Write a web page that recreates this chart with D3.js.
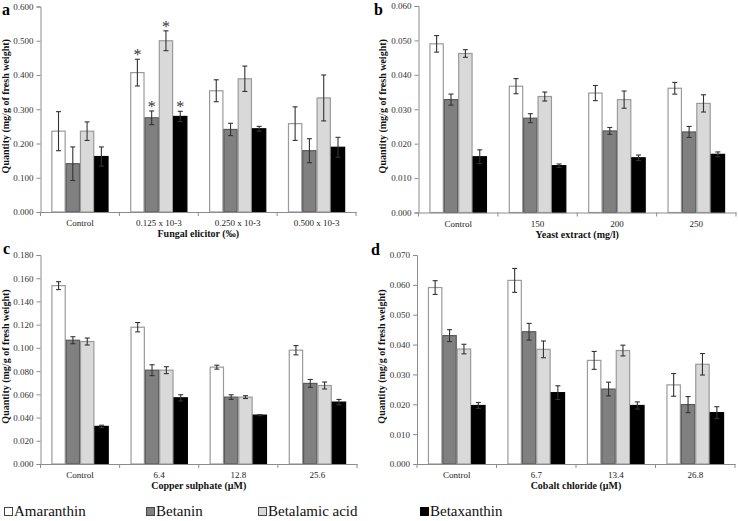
<!DOCTYPE html>
<html><head><meta charset="utf-8">
<script src="https://cdn.jsdelivr.net/npm/d3@7"></script>
<style>
html,body{margin:0;padding:0;background:#fff;}
svg{display:block;}
text{font-family:"Liberation Serif","Times New Roman",serif;}
</style></head>
<body>
<svg id="chart" width="738" height="521"></svg>
<script>
const seriesNames = ["Amaranthin","Betanin","Betalamic acid","Betaxanthin"];
const seriesFill = ["#ffffff","#808080","#d9d9d9","#000000"];
const seriesStroke = ["#9a9a9a","#5a5a5a","#9a9a9a","#000000"];

// Panel a: Fungal elicitor
const catsA = ["Control","0.125 x 10-3","0.250 x 10-3","0.500 x 10-3"];
const aAmaranthin = [0.236,0.407,0.354,0.258];
const aBetanin = [0.141,0.275,0.241,0.179];
const aBetalamic = [0.236,0.500,0.389,0.333];
const aBetaxanthin = [0.162,0.279,0.243,0.189];
const aErrAmaranthin = [0.057,0.039,0.032,0.049];
const aErrBetanin = [0.049,0.020,0.018,0.035];
const aErrBetalamic = [0.027,0.029,0.037,0.067];
const aErrBetaxanthin = [0.028,0.015,0.007,0.029];
const aStars = [[0,0,0,0],[1,1,1,1],[0,0,0,0],[0,0,0,0]];
const ticksA = [0,0.1,0.2,0.3,0.4,0.5,0.6];

// Panel b: Yeast extract
const catsB = ["Control","150","200","250"];
const bAmaranthin = [0.0490,0.0367,0.0347,0.0361];
const bBetanin = [0.0328,0.0274,0.0237,0.0234];
const bBetalamic = [0.0462,0.0337,0.0328,0.0317];
const bBetaxanthin = [0.0162,0.0136,0.0159,0.0169];
const bErrAmaranthin = [0.0024,0.0022,0.0022,0.0017];
const bErrBetanin = [0.0016,0.0013,0.0010,0.0016];
const bErrBetalamic = [0.0011,0.0013,0.0025,0.0025];
const bErrBetaxanthin = [0.0020,0.0005,0.0008,0.0007];
const ticksB = [0,0.01,0.02,0.03,0.04,0.05,0.06];

// Panel c: Copper sulphate
const catsC = ["Control","6.4","12.8","25.6"];
const cAmaranthin = [0.1536,0.1178,0.0834,0.0980];
const cBetanin = [0.1066,0.0808,0.0576,0.0694];
const cBetalamic = [0.1055,0.0808,0.0576,0.0676];
const cBetaxanthin = [0.0324,0.0570,0.0421,0.0533];
const cErrAmaranthin = [0.0034,0.0040,0.0017,0.0040];
const cErrBetanin = [0.0030,0.0047,0.0020,0.0034];
const cErrBetalamic = [0.0030,0.0030,0.0012,0.0030];
const cErrBetaxanthin = [0.0010,0.0027,0.0005,0.0023];
const ticksC = [0,0.02,0.04,0.06,0.08,0.10,0.12,0.14,0.16,0.18];

// Panel d: Cobalt chloride
const catsD = ["Control","6.7","13.4","26.8"];
const dAmaranthin = [0.0591,0.0615,0.0347,0.0265];
const dBetanin = [0.0430,0.0443,0.0251,0.0199];
const dBetalamic = [0.0385,0.0384,0.0380,0.0334];
const dBetaxanthin = [0.0196,0.0239,0.0196,0.0172];
const dErrAmaranthin = [0.0023,0.0040,0.0030,0.0038];
const dErrBetanin = [0.0020,0.0028,0.0023,0.0027];
const dErrBetalamic = [0.0016,0.0028,0.0018,0.0036];
const dErrBetaxanthin = [0.0010,0.0023,0.0012,0.0020];
const ticksD = [0,0.01,0.02,0.03,0.04,0.05,0.06,0.07];

const svg = d3.select("#chart");
const fmt = d3.format(".3f");

function panel(o){
  const g = svg.append("g");
  const y = d3.scaleLinear().domain([0, o.ticks[o.ticks.length-1]]).range([o.y0, o.y1]);
  const x = d3.scaleBand().domain(o.cats).range([o.x0, o.x1]).padding(0);
  const xs = d3.scaleBand().domain(seriesNames).range([0, x.bandwidth()]).paddingInner(0).paddingOuter(0.76);
  const vals = [o.v0,o.v1,o.v2,o.v3];
  const errs = [o.e0,o.e1,o.e2,o.e3];

  // y axis
  const ya = d3.axisLeft(y).tickValues(o.ticks).tickFormat(fmt).tickSize(4).tickPadding(3);
  const yg = g.append("g").attr("transform",`translate(${o.x0},0)`).call(ya);
  yg.select(".domain").attr("stroke","#8c8c8c");
  yg.selectAll(".tick line").attr("stroke","#8c8c8c");
  yg.selectAll(".tick text").attr("fill","#333").style("font-size","9px").style("font-family","'Liberation Serif',serif");

  // bars
  seriesNames.forEach((s,si)=>{
    g.append("g").selectAll("rect").data(o.cats).join("rect")
      .attr("x", (c)=> x(c)+xs(s)+0.5)
      .attr("y", (c,i)=> y(vals[si][i]))
      .attr("width", xs.bandwidth()-1)
      .attr("height", (c,i)=> y(0)-y(vals[si][i]))
      .attr("fill", seriesFill[si])
      .attr("stroke", seriesStroke[si])
      .attr("stroke-width", 1.2);
  });

  // x axis
  const xa = d3.axisBottom(x).tickSize(0).tickPadding(8);
  const xg = g.append("g").attr("transform",`translate(0,${o.y0})`).call(xa);
  xg.select(".domain").attr("stroke","#8c8c8c");
  xg.selectAll(".tick text").attr("fill","#222").style("font-size","9px").style("font-family","'Liberation Serif',serif");
  const bounds = o.cats.map(c=>x(c)).concat([o.x1]);
  g.append("g").selectAll("line").data(bounds).join("line")
    .attr("x1",d=>d).attr("x2",d=>d).attr("y1",o.y0).attr("y2",o.y0+4)
    .attr("stroke","#8c8c8c");

  // error bars
  seriesNames.forEach((s,si)=>{
    const eg = g.append("g").attr("stroke","#333").attr("stroke-width",1.1);
    o.cats.forEach((c,i)=>{
      const cx = x(c)+xs(s)+xs.bandwidth()/2;
      const hi = y(vals[si][i]+errs[si][i]), lo = y(vals[si][i]-errs[si][i]);
      eg.append("line").attr("x1",cx).attr("x2",cx).attr("y1",hi).attr("y2",lo);
      eg.append("line").attr("x1",cx-2.5).attr("x2",cx+2.5).attr("y1",hi).attr("y2",hi);
      eg.append("line").attr("x1",cx-2.5).attr("x2",cx+2.5).attr("y1",lo).attr("y2",lo);
      if (o.stars && o.stars[i][si]) {
        g.append("text").attr("x",cx).attr("y",hi+1).attr("text-anchor","middle")
          .style("font-size","16px").attr("fill","#333").text("*");
      }
    });
  });

  // titles
  g.append("text").attr("x",(o.x0+o.x1)/2).attr("y",o.y0+25).attr("text-anchor","middle")
    .style("font-size","10px").style("font-weight","bold").attr("fill","#111").text(o.xTitle);
  g.append("text").attr("transform",`translate(${o.yTitleX},${(o.y0+o.y1)/2 - 3}) rotate(-90)`)
    .attr("text-anchor","middle").style("font-size","10px").style("font-weight","bold").attr("fill","#111")
    .text("Quantity (mg/g of fresh weight)");
  g.append("text").attr("x",o.lx).attr("y",o.ly).style("font-size","16px").style("font-weight","bold")
    .attr("fill","#000").text(o.letter);
}

panel({cats:catsA, v0:aAmaranthin, v1:aBetanin, v2:aBetalamic, v3:aBetaxanthin,
  e0:aErrAmaranthin, e1:aErrBetanin, e2:aErrBetalamic, e3:aErrBetaxanthin, stars:aStars,
  ticks:ticksA, x0:40.5, x1:356, y0:212, y1:6.5, xTitle:"Fungal elicitor (‰)", yTitleX:9, letter:"a", lx:2, ly:15});
panel({cats:catsB, v0:bAmaranthin, v1:bBetanin, v2:bBetalamic, v3:bBetaxanthin,
  e0:bErrAmaranthin, e1:bErrBetanin, e2:bErrBetalamic, e3:bErrBetaxanthin,
  ticks:ticksB, x0:418.5, x1:736, y0:212.5, y1:6, xTitle:"Yeast extract (mg/l)", yTitleX:386, letter:"b", lx:374, ly:15});
panel({cats:catsC, v0:cAmaranthin, v1:cBetanin, v2:cBetalamic, v3:cBetaxanthin,
  e0:cErrAmaranthin, e1:cErrBetanin, e2:cErrBetalamic, e3:cErrBetaxanthin,
  ticks:ticksC, x0:40.5, x1:357, y0:464, y1:255, xTitle:"Copper sulphate (µM)", yTitleX:9, letter:"c", lx:3, ly:254});
panel({cats:catsD, v0:dAmaranthin, v1:dBetanin, v2:dBetalamic, v3:dBetaxanthin,
  e0:dErrAmaranthin, e1:dErrBetanin, e2:dErrBetalamic, e3:dErrBetaxanthin,
  ticks:ticksD, x0:417, x1:735, y0:464, y1:255, xTitle:"Cobalt chloride (µM)", yTitleX:385, letter:"d", lx:371, ly:255});

// legend
const legX = [4, 146, 258, 420];
const lg = svg.append("g");
seriesNames.forEach((s,i)=>{
  lg.append("rect").attr("x",legX[i]+0.5).attr("y",507.5).attr("width",8).attr("height",8)
    .attr("fill",seriesFill[i]).attr("stroke", i===3?"#000":"#444").attr("stroke-width",1);
  lg.append("text").attr("x",legX[i]+10).attr("y",516).style("font-size","15px").attr("fill","#111").text(s);
});
</script>
</body></html>
